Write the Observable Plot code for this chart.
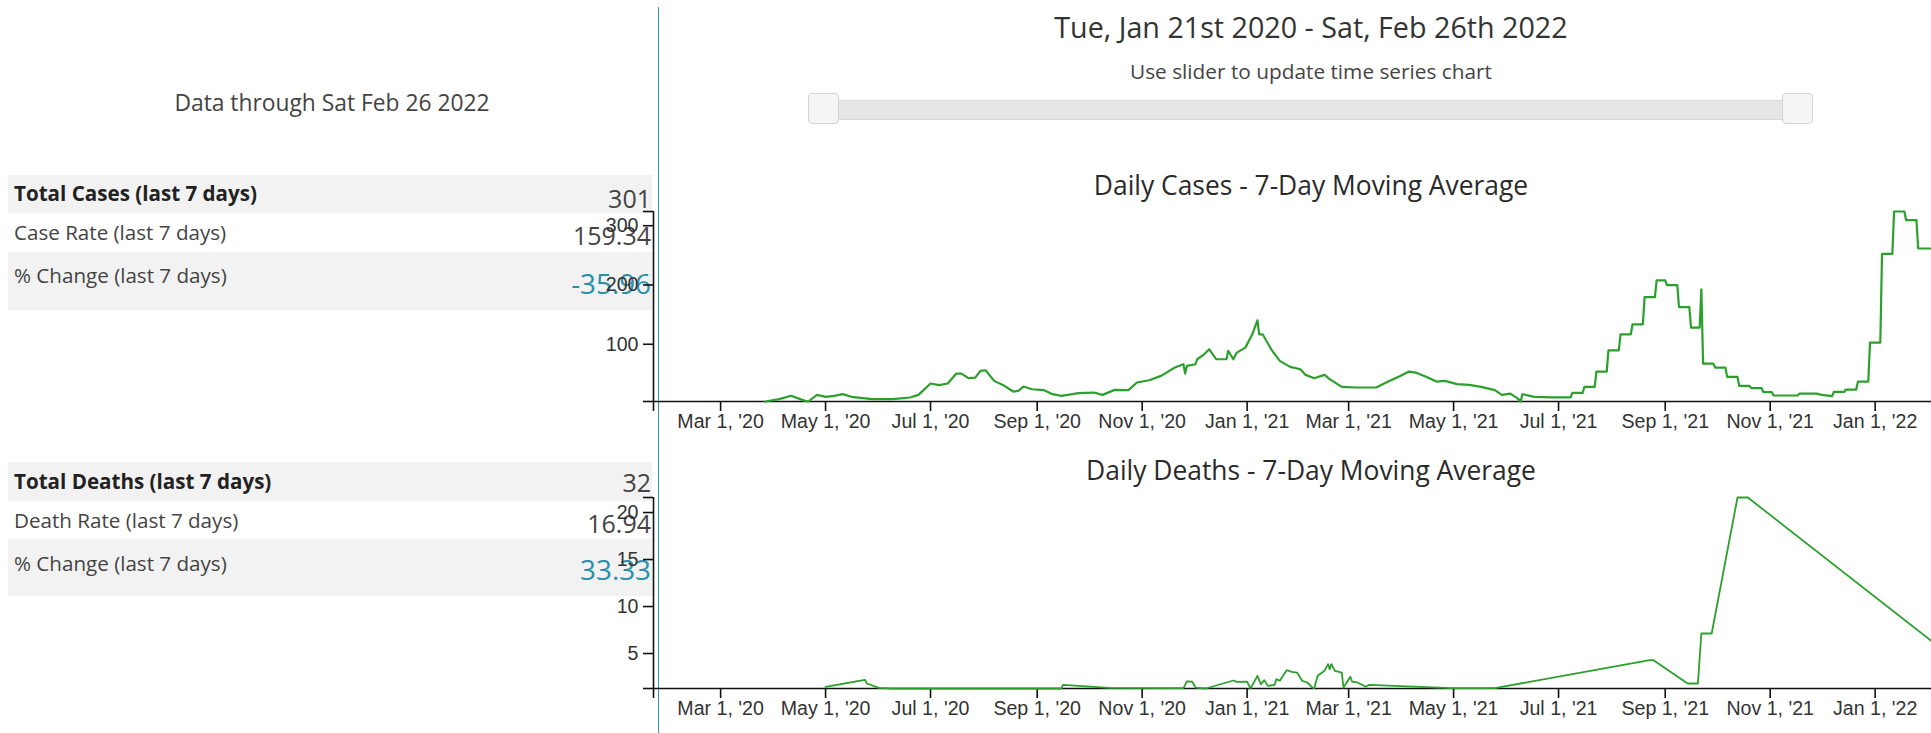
<!DOCTYPE html>
<html>
<head>
<meta charset="utf-8">
<script src="https://cdn.jsdelivr.net/npm/d3@7"></script>
<script src="https://cdn.jsdelivr.net/npm/@observablehq/plot@0.6"></script>
<style>
html, body { margin: 0; padding: 0; background: #fff; overflow: hidden; width: 1931px; height: 733px; }
body { position: relative; font-family: "Open Sans", "Noto Sans", sans-serif; color: #333; }
.t { position: absolute; white-space: nowrap; line-height: 1; }
.c { transform: translate(-50%, -50%); }
.l { transform: translateY(-50%); }
.r { transform: translate(-100%, -50%); }
.band { position: absolute; left: 8px; width: 644px; background: #f2f2f2; }
.lab { font-size: 20.6px; color: #444; }
.labb { font-size: 20.6px; font-weight: 700; color: #222; }
.val { font-size: 25px; color: #444; text-align: right; }
.teal { color: #2a90a9; font-size: 27.8px; }
#vline { position: absolute; left: 657.5px; top: 7px; width: 1.6px; height: 726px; background: #3993ae; }
.track { position: absolute; left: 820px; top: 100px; width: 980px; height: 20px; background: #e6e6e6; border-top: 1px solid #d9d9d9; border-bottom: 1px solid #d9d9d9; box-sizing: border-box; }
.handle { position: absolute; top: 93px; width: 31px; height: 31px; box-sizing: border-box; background: #f5f5f5; border: 1.5px solid #d4d4d4; border-radius: 4px; }
.chart { position: absolute; left: 590px; width: 1400px; }
.chart svg { max-width: none !important; background: transparent !important; overflow: visible; }
</style>
</head>
<body>
<div id="vline"></div>

<!-- left summary panel -->
<div class="t c" style="left:332px;top:103px;font-size:22.8px;color:#444;">Data through Sat Feb 26 2022</div>

<div class="band" style="top:175px;height:38px;"></div>
<div class="band" style="top:252px;height:58px;"></div>
<div class="t l labb" style="left:14px;top:193px;">Total Cases (last 7 days)</div>
<div class="t l lab" style="left:14px;top:232px;">Case Rate (last 7 days)</div>
<div class="t l lab" style="left:14px;top:275px;">% Change (last 7 days)</div>
<div class="t r val" style="left:651px;top:198px;">301</div>
<div class="t r val" style="left:651px;top:235px;">159.34</div>
<div class="t r val teal" style="left:651px;top:284px;">-35.96</div>

<div class="band" style="top:462px;height:39px;"></div>
<div class="band" style="top:539px;height:57px;"></div>
<div class="t l labb" style="left:14px;top:481px;">Total Deaths (last 7 days)</div>
<div class="t l lab" style="left:14px;top:520px;">Death Rate (last 7 days)</div>
<div class="t l lab" style="left:14px;top:563px;">% Change (last 7 days)</div>
<div class="t r val" style="left:651px;top:482px;">32</div>
<div class="t r val" style="left:651px;top:523px;">16.94</div>
<div class="t r val teal" style="left:651px;top:570px;">33.33</div>

<!-- right panel header and slider -->
<div class="t c" style="left:1311px;top:27px;font-size:28.7px;color:#333;">Tue, Jan 21st 2020 - Sat, Feb 26th 2022</div>
<div class="t c" style="left:1311px;top:71px;font-size:20.8px;color:#444;">Use slider to update time series chart</div>
<div class="track"></div>
<div class="handle" style="left:808px;"></div>
<div class="handle" style="left:1782px;"></div>

<div class="t c" style="left:1311px;top:185px;font-size:26.4px;color:#2a2a2a;">Daily Cases - 7-Day Moving Average</div>
<div class="t c" style="left:1311px;top:470px;font-size:26.4px;color:#2a2a2a;">Daily Deaths - 7-Day Moving Average</div>

<div class="chart" id="cases" style="top:200px;"></div>
<div class="chart" id="deaths" style="top:486px;"></div>

<script>
// ---- Data ----
const domainStart = "2020-01-22";
const domainEnd = "2022-02-26";

const casesDates = [
"2020-03-27","2020-04-04","2020-04-11","2020-04-19","2020-04-21","2020-04-26","2020-05-01","2020-05-06",
"2020-05-11","2020-05-16","2020-05-28","2020-06-09","2020-06-19","2020-06-24","2020-07-01","2020-07-06",
"2020-07-11","2020-07-16","2020-07-19","2020-07-23","2020-07-27","2020-07-30","2020-08-02","2020-08-07",
"2020-08-12","2020-08-18","2020-08-21","2020-08-24","2020-08-29","2020-09-05","2020-09-10","2020-09-15",
"2020-09-25","2020-10-04","2020-10-09","2020-10-16","2020-10-24","2020-10-29","2020-11-05","2020-11-12",
"2020-11-20","2020-11-25","2020-11-26","2020-11-27","2020-12-02","2020-12-03","2020-12-07","2020-12-10",
"2020-12-14","2020-12-20","2020-12-21","2020-12-24","2020-12-26","2020-12-31","2021-01-04","2021-01-07",
"2021-01-08","2021-01-10","2021-01-15","2021-01-20","2021-01-26","2021-02-01","2021-02-04","2021-02-09",
"2021-02-15","2021-02-18","2021-02-25","2021-03-05","2021-03-17","2021-03-24","2021-03-31","2021-04-05",
"2021-04-09","2021-04-16","2021-04-21","2021-04-26","2021-05-03","2021-05-10","2021-05-17","2021-05-25",
"2021-05-29","2021-06-03","2021-06-07","2021-06-09","2021-06-10","2021-06-17","2021-06-27","2021-07-06",
"2021-07-08","2021-07-09","2021-07-15","2021-07-16","2021-07-22","2021-07-23","2021-07-29","2021-07-30",
"2021-08-05","2021-08-06","2021-08-12","2021-08-13","2021-08-19","2021-08-20","2021-08-26","2021-08-27",
"2021-09-01","2021-09-02","2021-09-08","2021-09-09","2021-09-15","2021-09-16","2021-09-21","2021-09-22",
"2021-09-23","2021-09-29","2021-09-30","2021-10-06","2021-10-07","2021-10-13","2021-10-14","2021-10-20",
"2021-10-21","2021-10-27","2021-10-28","2021-11-02","2021-11-03","2021-11-17","2021-11-18","2021-11-28",
"2021-12-01","2021-12-07","2021-12-08","2021-12-14","2021-12-15","2021-12-21","2021-12-22","2021-12-28",
"2021-12-29","2022-01-04","2022-01-05","2022-01-11","2022-01-12","2022-01-18","2022-01-19","2022-01-25",
"2022-01-26","2022-02-03"
];
const casesValues = [
3.4,7.4,13.0,4.5,3.4,14.6,11.3,13.0,
15.8,11.3,7.4,7.4,10.2,14.6,33.7,30.9,
33.7,50.5,50.5,42.7,43.8,55.0,56.1,38.2,
31.4,20.2,21.3,28.6,24.1,22.5,15.8,13.0,
17.4,18.5,14.6,23.0,22.5,35.4,39.3,46.6,
60.7,66.3,50.5,63.5,66.3,74.7,83.1,91.5,
74.7,74.7,88.7,74.7,85.9,94.3,116.8,140.4,
116.8,116.8,91.5,71.9,61.8,57.9,48.3,42.7,
48.3,41.1,28.1,27.0,27.0,37.0,46.6,53.9,
52.2,43.8,37.0,38.2,32.7,31.5,28.1,22.5,
14.6,16.8,9.1,3.4,15.7,11.3,10.2,10.2,
10.2,18.0,18.0,28.1,28.1,53.9,53.9,89.8,
89.8,116.8,116.8,133.7,133.7,179.6,179.6,207.7,
207.7,199.8,199.8,162.8,162.8,128.0,128.0,192.6,
67.3,67.3,60.6,60.6,45.0,45.0,29.8,29.8,
25.9,25.9,19.2,19.2,13.5,13.5,16.8,16.8,
14.6,12.4,19.7,19.7,23.6,23.6,37.0,37.0,
102.7,102.7,252.5,252.5,324.0,324.0,309.3,309.3,
261.6,261.6
];

const deathsDates = [
"2020-05-01","2020-05-23","2020-05-24","2020-05-25","2020-06-01","2020-06-09","2020-09-15","2020-09-16",
"2020-09-25","2020-10-13","2020-11-25","2020-11-27","2020-11-30","2020-12-02","2020-12-08","2020-12-24",
"2020-12-26","2021-01-01","2021-01-03","2021-01-07","2021-01-09","2021-01-11","2021-01-13","2021-01-17",
"2021-01-18","2021-01-20","2021-01-24","2021-01-27","2021-01-30","2021-02-02","2021-02-05","2021-02-08",
"2021-02-09","2021-02-11","2021-02-15","2021-02-17","2021-02-18","2021-02-19","2021-02-21","2021-02-25",
"2021-02-26","2021-03-02","2021-03-03","2021-03-06","2021-03-11","2021-03-13","2021-04-30","2021-05-25",
"2021-08-23","2021-08-25","2021-09-14","2021-09-20","2021-09-22","2021-09-28","2021-10-13","2021-10-19",
"2022-02-26"
];
const deathsValues = [
1.45,2.17,2.20,1.81,1.35,1.28,1.28,1.67,
1.56,1.35,1.31,2.04,2.02,1.38,1.28,2.13,
1.99,2.02,1.28,2.63,1.74,2.17,1.56,1.67,
2.28,2.10,3.23,3.05,2.98,2.10,1.92,1.38,
1.31,2.63,3.16,3.87,3.34,3.87,3.16,2.98,
1.38,2.52,2.02,1.92,1.46,1.67,1.32,1.32,
4.30,4.30,1.81,1.81,7.13,7.13,21.6,21.6,
3.0
];

// ---- Chart builder ----
const lineColor = "#2ca02c";
const axisColor = "#111";
const start = new Date(domainStart);
const end = new Date(domainEnd);
const xTicks = d3.utcMonth.every(2).range(start, end);
const fmt = d3.utcFormat("%b %-d, '%y");

function buildChart(dates, values, opts) {
  const data = dates.map((d, i) => ({date: new Date(d), value: values[i]}));
  const ext = d3.extent(values);
  return Plot.plot({
    width: 1400,
    height: opts.height,
    marginLeft: 63,
    marginRight: 19,
    marginTop: opts.marginTop,
    marginBottom: opts.marginBottom,
    x: {type: "utc", domain: [start, end]},
    y: {type: "linear", domain: ext},
    style: {
      fontFamily: "'Liberation Sans', Arial, sans-serif",
      fontSize: "19.6px",
      color: "#333",
      background: "transparent",
      overflow: "visible",
      maxWidth: "none"
    },
    marks: [
      Plot.ruleY([ext[0]], {stroke: axisColor, strokeWidth: 1.6}),
      Plot.ruleX([start], {stroke: axisColor, strokeWidth: 1.6}),
      Plot.axisY(ext, {anchor: "left", tickSize: 10, tickFormat: () => "", label: null, stroke: axisColor, strokeWidth: 1.6}),
      Plot.axisX([start], {anchor: "bottom", tickSize: 10, tickFormat: () => "", label: null, stroke: axisColor, strokeWidth: 1.6}),
      Plot.axisY({anchor: "left", ticks: 4, tickSize: 10, tickPadding: 5, label: null, stroke: axisColor, strokeWidth: 1.6, fill: "#333"}),
      Plot.axisX(xTicks, {anchor: "bottom", tickSize: 10, tickPadding: 3, tickFormat: fmt, label: null, stroke: axisColor, strokeWidth: 1.6, fill: "#333"}),
      Plot.line(data, {x: "date", y: "value", stroke: lineColor, strokeWidth: opts.strokeWidth})
    ]
  });
}

document.getElementById("cases").append(
  buildChart(casesDates, casesValues, {height: 240, marginTop: 11, marginBottom: 39, strokeWidth: 2.2})
);
document.getElementById("deaths").append(
  buildChart(deathsDates, deathsValues, {height: 247, marginTop: 11, marginBottom: 45, strokeWidth: 1.8})
);
</script>
</body>
</html>
